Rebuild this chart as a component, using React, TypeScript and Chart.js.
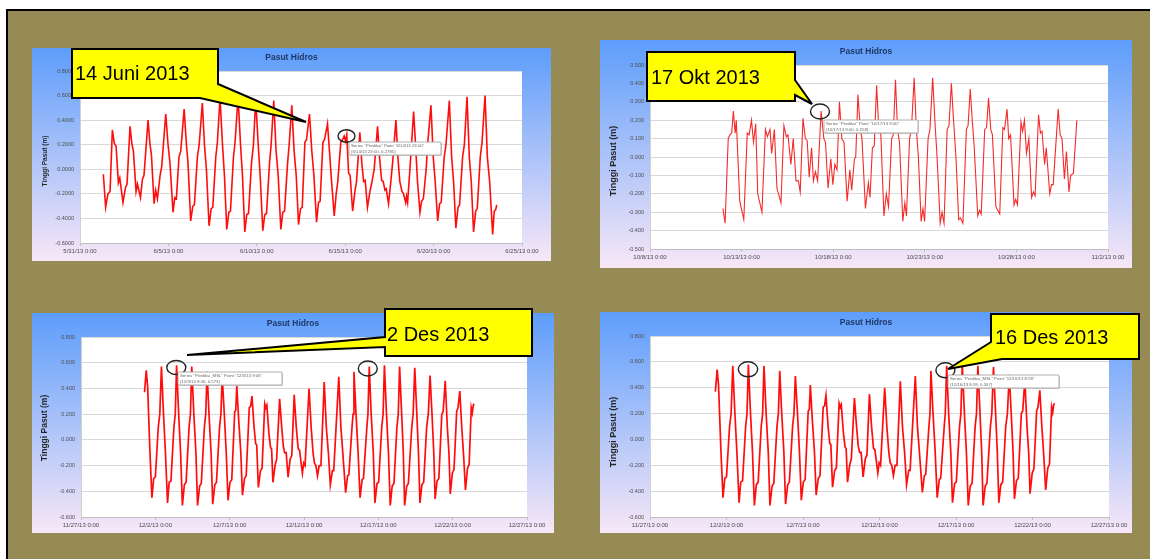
import React, { useEffect, useRef } from "react";
import { Chart, registerables } from "chart.js";

Chart.register(...registerables);

const FONT = "'Liberation Sans', Arial, sans-serif";
const CHART_TITLE = "Pasut Hidros";
const Y_TITLE = "Tinggi Pasut (m)";

const juneTickLabels = ["5/31/13 0:00", "6/5/13 0:00", "6/10/13 0:00", "6/15/13 0:00", "6/20/13 0:00", "6/25/13 0:00"];
const octTickLabels = ["10/8/13 0:00", "10/13/13 0:00", "10/18/13 0:00", "10/23/13 0:00", "10/28/13 0:00", "11/2/13 0:00"];
const decTickLabels = ["11/27/13 0:00", "12/2/13 0:00", "12/7/13 0:00", "12/12/13 0:00", "12/17/13 0:00", "12/22/13 0:00", "12/27/13 0:00"];

// days since 5/31/13 0:00
const juneDays = [
  1.32, 1.45, 1.58, 1.70, 1.83, 1.94, 2.04, 2.17, 2.25, 2.43, 2.57, 2.66,
  2.83, 2.94, 3.02, 3.17, 3.25, 3.42, 3.53, 3.62, 3.85, 3.96, 4.04, 4.19,
  4.28, 4.38, 4.53, 4.62, 4.85, 4.98, 5.09, 5.26, 5.36, 5.45, 5.60, 5.70,
  5.89, 6.02, 6.11, 6.26, 6.38, 6.47, 6.64, 6.74, 6.92, 7.04, 7.15, 7.30,
  7.42, 7.51, 7.68, 7.77, 7.92, 8.06, 8.17, 8.30, 8.42, 8.51, 8.68, 8.77,
  8.94, 9.08, 9.19, 9.32, 9.43, 9.53, 9.70, 9.81, 9.94, 10.08, 10.19, 10.34,
  10.45, 10.55, 10.72, 10.81, 10.96, 11.09, 11.21, 11.36, 11.47, 11.57, 11.74, 11.83,
  11.98, 12.11, 12.23, 12.36, 12.47, 12.57, 12.72, 12.81, 12.98, 13.11, 13.23, 13.38,
  13.49, 13.58, 13.74, 13.83, 14.00, 14.11, 14.23, 14.38, 14.49, 14.58, 14.75, 14.85,
  14.94, 15.02, 15.09, 15.19, 15.28, 15.42, 15.55, 15.64, 15.83, 15.94, 16.04, 16.13,
  16.26, 16.40, 16.49, 16.64, 16.83, 16.94, 17.06, 17.15, 17.25, 17.32, 17.45, 17.58,
  17.68, 17.87, 17.98, 18.09, 18.21, 18.30, 18.42, 18.47, 18.53, 18.66, 18.75, 18.87,
  18.98, 19.09, 19.23, 19.32, 19.42, 19.58, 19.66, 19.85, 19.98, 20.09, 20.23, 20.34,
  20.43, 20.60, 20.70, 20.89, 21.02, 21.13, 21.26, 21.38, 21.47, 21.64, 21.74, 21.89,
  22.02, 22.13, 22.26, 22.38, 22.47, 22.64, 22.74, 22.91, 23.04, 23.17, 23.34, 23.43,
  23.51, 23.57,
];
const juneLevels = [
  -0.04, -0.31, -0.2, -0.18, 0.32, 0.21, 0.19, -0.11, -0.07, -0.27, -0.15, -0.12,
  0.35, 0.2, 0.15, -0.18, -0.12, -0.23, -0.08, -0.05, 0.40, 0.2, 0.12, -0.28,
  -0.17, -0.24, -0.05, 0.02, 0.45, 0.2, 0.05, -0.35, -0.23, -0.24, 0.1, 0.15,
  0.49, 0.2, 0.05, -0.42, -0.3, -0.29, 0.1, 0.2, 0.54, 0.2, 0.0, -0.46,
  -0.32, -0.31, 0.1, 0.22, 0.58, 0.2, -0.05, -0.49, -0.35, -0.34, 0.1, 0.22,
  0.59, 0.2, -0.05, -0.51, -0.37, -0.36, 0.05, 0.2, 0.57, 0.2, -0.05, -0.5,
  -0.37, -0.36, 0.05, 0.2, 0.56, 0.15, -0.05, -0.49, -0.35, -0.34, 0.05, 0.2,
  0.52, 0.15, -0.05, -0.45, -0.32, -0.31, 0.22, 0.24, 0.45, 0.15, -0.05, -0.43,
  -0.27, -0.26, 0.22, 0.24, 0.37, 0.15, -0.1, -0.38, -0.2, -0.1, 0.22, 0.24,
  0.27, 0.23, 0.28, -0.03, -0.05, -0.34, -0.18, -0.1, 0.3, 0.05, -0.1, -0.09,
  -0.31, -0.18, -0.12, 0.0, 0.35, 0.1, -0.09, -0.1, -0.17, -0.16, -0.28, -0.1,
  0.05, 0.4, 0.1, -0.1, -0.18, -0.2, -0.27, -0.22, -0.27, 0.0, 0.2, 0.47,
  0.2, -0.1, -0.35, -0.26, -0.24, 0.0, 0.2, 0.52, 0.1, -0.1, -0.42, -0.28,
  -0.27, 0.1, 0.2, 0.56, 0.1, -0.1, -0.48, -0.31, -0.29, 0.1, 0.2, 0.59,
  0.1, -0.1, -0.51, -0.34, -0.32, 0.1, 0.22, 0.6, 0.1, -0.1, -0.53, -0.34,
  -0.33, -0.29,
];

// days since 10/8/13 0:00
const octDays = [
  3.98, 4.10, 4.27, 4.36, 4.46, 4.55, 4.65, 4.71, 4.90, 5.12, 5.31, 5.41,
  5.54, 5.65, 5.77, 5.88, 6.11, 6.30, 6.41, 6.55, 6.64, 6.79, 6.93, 7.15,
  7.31, 7.44, 7.53, 7.69, 7.82, 7.97, 8.10, 8.20, 8.35, 8.48, 8.58, 8.69,
  8.82, 8.92, 9.03, 9.15, 9.34, 9.49, 9.58, 9.72, 9.87, 9.98, 10.09, 10.21,
  10.34, 10.47, 10.59, 10.76, 10.91, 11.01, 11.16, 11.23, 11.35, 11.48, 11.57, 11.76,
  11.92, 12.01, 12.14, 12.24, 12.37, 12.49, 12.60, 12.77, 12.90, 13.02, 13.19, 13.28,
  13.40, 13.51, 13.62, 13.80, 13.91, 14.00, 14.17, 14.27, 14.42, 14.54, 14.65, 14.80,
  14.90, 14.99, 15.18, 15.28, 15.43, 15.56, 15.67, 15.84, 15.94, 16.05, 16.22, 16.32,
  16.45, 16.57, 16.70, 16.85, 16.94, 17.08, 17.27, 17.36, 17.48, 17.59, 17.70, 17.89,
  17.99, 18.08, 18.27, 18.37, 18.48, 18.60, 18.69, 18.88, 18.98, 19.09, 19.26, 19.35,
  19.49, 19.58, 19.68, 19.87, 19.96, 20.06, 20.25, 20.34, 20.44, 20.55, 20.68, 20.83,
  20.93, 21.02, 21.21, 21.31, 21.40, 21.54, 21.63, 21.82, 21.92, 22.01, 22.28, 22.39,
  22.49, 22.62, 22.73, 22.87, 22.96, 23.11, 23.30,
];
const octLevels = [
  -0.28, -0.36, 0.1, 0.12, 0.13, 0.25, 0.13, 0.2, -0.24, -0.34, 0.13, 0.12,
  0.2, 0.08, 0.18, -0.2, -0.3, 0.15, 0.11, 0.15, 0.02, 0.15, -0.17, -0.25,
  0.17, 0.11, 0.12, -0.04, 0.1, -0.13, -0.13, -0.19, 0.21, 0.1, 0.09, -0.11,
  0.05, -0.13, -0.08, -0.13, 0.25, 0.1, 0.08, -0.17, -0.01, -0.15, -0.04, -0.07,
  0.3, 0.1, 0.08, -0.24, -0.07, -0.18, -0.01, 0.0, 0.34, 0.15, 0.1, -0.28,
  -0.14, -0.22, 0.05, 0.06, 0.39, 0.15, 0.12, -0.32, -0.2, -0.27, 0.1, 0.12,
  0.42, 0.15, 0.08, -0.35, -0.25, -0.32, 0.1, 0.15, 0.43, 0.15, 0.0, -0.35,
  -0.28, -0.35, 0.1, 0.15, 0.43, 0.18, 0.0, -0.36, -0.3, -0.36, 0.15, 0.17,
  0.4, 0.2, 0.0, -0.34, -0.33, -0.36, 0.15, 0.17, 0.37, 0.2, 0.05, -0.32,
  -0.29, -0.31, 0.15, 0.16, 0.32, 0.15, 0.12, -0.27, -0.29, -0.31, 0.16, 0.15,
  0.26, 0.1, 0.12, -0.26, -0.23, -0.26, 0.19, 0.14, 0.2, 0.02, 0.1, -0.22,
  -0.19, -0.21, 0.23, 0.13, 0.14, -0.04, 0.05, -0.2, -0.15, -0.15, 0.26, 0.12,
  0.1, -0.12, 0.03, -0.19, -0.1, -0.09, 0.2,
];

// days since 11/27/13 0:00
const decDays = [
  4.27, 4.39, 4.48, 4.64, 4.77, 4.89, 5.00, 5.20, 5.30, 5.41, 5.55, 5.68,
  5.82, 5.93, 6.05, 6.25, 6.34, 6.43, 6.57, 6.70, 6.82, 6.95, 7.07, 7.27,
  7.36, 7.45, 7.59, 7.73, 7.84, 7.98, 8.09, 8.30, 8.39, 8.48, 8.61, 8.75,
  8.86, 9.00, 9.11, 9.32, 9.41, 9.50, 9.64, 9.77, 9.89, 10.02, 10.14, 10.34,
  10.41, 10.48, 10.61, 10.75, 10.86, 11.00, 11.11, 11.32, 11.41, 11.50, 11.64, 11.75,
  11.82, 11.93, 12.07, 12.18, 12.36, 12.43, 12.50, 12.64, 12.75, 12.82, 12.91, 13.05,
  13.16, 13.36, 13.50, 13.61, 13.70, 13.80, 13.93, 14.07, 14.18, 14.34, 14.48, 14.61,
  14.70, 14.89, 14.98, 15.07, 15.34, 15.48, 15.61, 15.70, 15.80, 15.91, 16.02, 16.14,
  16.36, 16.50, 16.64, 16.77, 16.91, 17.00, 17.34, 17.48, 17.61, 17.80, 17.93, 18.02,
  18.23, 18.30, 18.36, 18.50, 18.64, 18.77, 18.91, 19.00, 19.23, 19.30, 19.39, 19.52,
  19.66, 19.77, 19.91, 20.02, 20.23, 20.32, 20.41, 20.55, 20.68, 20.80, 20.93, 21.05,
  21.25, 21.34, 21.43, 21.57, 21.68, 21.77, 21.91, 22.02, 22.25, 22.34, 22.45, 22.59,
  22.70, 22.80, 22.93, 23.05, 23.25, 23.36, 23.48, 23.61, 23.73, 23.82, 23.95, 24.07,
  24.27, 24.36, 24.50, 24.64, 24.75, 24.84, 24.98, 25.09, 25.27, 25.36, 25.48, 25.61,
  25.75, 25.86, 26.00, 26.11, 26.25, 26.32, 26.39, 26.45,
];
const decLevels = [
  0.37, 0.54, 0.42, -0.1, -0.45, -0.3, -0.29, 0.1, 0.2, 0.57, 0.2, -0.1,
  -0.49, -0.33, -0.32, 0.1, 0.2, 0.58, 0.2, -0.1, -0.51, -0.35, -0.33, 0.1,
  0.2, 0.57, 0.2, -0.1, -0.51, -0.36, -0.34, 0.1, 0.2, 0.53, 0.2, -0.1,
  -0.5, -0.35, -0.33, 0.1, 0.2, 0.49, 0.2, -0.1, -0.47, -0.33, -0.31, 0.22,
  0.23, 0.42, 0.15, -0.1, -0.43, -0.3, -0.28, 0.25, 0.26, 0.34, 0.1, -0.03,
  -0.04, -0.37, -0.24, -0.22, 0.28, 0.25, 0.27, 0.05, -0.06, -0.07, -0.33, -0.2,
  -0.15, 0.32, 0.1, -0.05, -0.1, -0.1, -0.29, -0.15, -0.12, 0.35, 0.1, -0.07,
  -0.08, -0.26, -0.18, -0.2, 0.4, 0.1, -0.1, -0.18, -0.2, -0.28, -0.2, -0.2,
  0.45, 0.1, -0.1, -0.35, -0.24, -0.24, 0.49, 0.1, -0.1, -0.41, -0.28, -0.27,
  0.1, 0.2, 0.53, 0.2, -0.1, -0.45, -0.31, -0.3, 0.1, 0.2, 0.57, 0.2,
  -0.1, -0.49, -0.34, -0.33, 0.1, 0.2, 0.58, 0.2, -0.1, -0.51, -0.36, -0.34,
  0.1, 0.2, 0.57, 0.2, -0.1, -0.51, -0.36, -0.34, 0.1, 0.2, 0.56, 0.2,
  -0.1, -0.49, -0.35, -0.33, 0.1, 0.2, 0.5, 0.2, -0.1, -0.46, -0.32, -0.3,
  0.2, 0.22, 0.46, 0.1, -0.1, -0.42, -0.26, -0.23, 0.22, 0.25, 0.38, 0.1,
  -0.15, -0.39, -0.22, -0.19, 0.25, 0.21, 0.27, 0.28,
];

type PanelProps = {
  left: number; top: number; width: number; height: number;
  plotLeft: number; plotTop: number; plotRight: number; plotBottom: number;
  days: number[]; levels: number[]; tickLabels: string[];
  yMin: number; yMax: number; yStep: number; decimals: number;
  lineWidth: number; lineColor: string;
  titleY: number; titleSize: number;
  yTitleX: number; yTitleY: number; yTitleSize: number;
};

function TidePanel(p: PanelProps) {
  const ref = useRef<HTMLCanvasElement>(null);
  useEffect(() => {
    const canvas = ref.current;
    if (!canvas) return;
    const decor = {
      id: "decor",
      beforeDraw(chart: any) {
        const { ctx, width, height, chartArea } = chart;
        ctx.save();
        const g = ctx.createLinearGradient(0, 0, 0, height);
        g.addColorStop(0, "#5d9dfb");
        g.addColorStop(1, "#f7e7f7");
        ctx.fillStyle = g;
        ctx.fillRect(0, 0, width, height);
        ctx.fillStyle = "#ffffff";
        ctx.fillRect(chartArea.left, chartArea.top, chartArea.right - chartArea.left, chartArea.bottom - chartArea.top);
        ctx.restore();
      },
      afterDraw(chart: any) {
        const { ctx, width } = chart;
        ctx.save();
        ctx.textAlign = "center";
        ctx.textBaseline = "middle";
        ctx.fillStyle = "#1f3864";
        ctx.font = `bold ${p.titleSize}px ${FONT}`;
        ctx.fillText(CHART_TITLE, width / 2, p.titleY);
        ctx.translate(p.yTitleX, p.yTitleY);
        ctx.rotate(-Math.PI / 2);
        ctx.fillStyle = "#262626";
        ctx.font = `bold ${p.yTitleSize}px ${FONT}`;
        ctx.fillText(Y_TITLE, 0, 0);
        ctx.restore();
      },
    };
    const chart = new Chart(canvas, {
      type: "line",
      data: {
        datasets: [
          {
            data: p.days.map((d, i) => ({ x: d, y: p.levels[i] })),
            borderColor: p.lineColor,
            borderWidth: p.lineWidth,
            pointRadius: 0,
            tension: 0,
            fill: false,
          },
        ],
      },
      options: {
        animation: false,
        responsive: false,
        maintainAspectRatio: false,
        events: [],
        layout: { padding: { left: 0, top: p.plotTop, right: p.width - p.plotRight, bottom: 0 } },
        plugins: { legend: { display: false }, tooltip: { enabled: false }, title: { display: false } },
        scales: {
          x: {
            type: "linear",
            min: 0,
            max: (p.tickLabels.length - 1) * 5,
            ticks: {
              stepSize: 5,
              autoSkip: false,
              maxRotation: 0,
              minRotation: 0,
              padding: 2,
              color: "#4d4d4d",
              font: { size: 6, family: FONT },
              callback: (v: any) => p.tickLabels[Math.round(Number(v) / 5)] ?? "",
            },
            grid: { display: true, drawOnChartArea: false, drawTicks: true, tickLength: 3, color: "#bfbfbf" },
            border: { display: true, color: "#bfbfbf" },
            afterFit: (s: any) => { s.height = p.height - p.plotBottom; },
          },
          y: {
            min: p.yMin,
            max: p.yMax,
            ticks: {
              stepSize: p.yStep,
              padding: 6,
              color: "#4d4d4d",
              font: { size: 5.5, family: FONT },
              callback: (v: any) => {
                const n = Math.abs(Number(v)) < 1e-9 ? 0 : Number(v);
                return n.toFixed(p.decimals);
              },
            },
            grid: { color: "#d9d9d9", drawTicks: false },
            border: { display: true, color: "#d0d0d0" },
            afterFit: (s: any) => { s.width = p.plotLeft; },
          },
        },
      },
      plugins: [decor],
    } as any);
    return () => chart.destroy();
  }, []);
  return (
    <div style={{ position: "absolute", left: p.left, top: p.top, width: p.width, height: p.height }}>
      <canvas ref={ref} width={p.width} height={p.height} style={{ display: "block", width: p.width, height: p.height }} />
    </div>
  );
}

function Tip({ x, y, w, line1, line2 }: { x: number; y: number; w: number; line1: string; line2: string }) {
  return (
    <g>
      <rect x={x + 1} y={y + 1} width={w} height={13} fill="#bdbdbd" opacity={0.6} />
      <rect x={x} y={y} width={w} height={13} fill="#ffffff" stroke="#9a9a9a" strokeWidth={0.8} rx={1} />
      <text x={x + 2} y={y + 5.2} fontSize={4.3} fill="#666" fontFamily={FONT}>{line1}</text>
      <text x={x + 2} y={y + 10.5} fontSize={4.3} fill="#666" fontFamily={FONT}>{line2}</text>
    </g>
  );
}

export default function App() {
  return (
    <div style={{ position: "absolute", left: 0, top: 0, width: 1150, height: 559, background: "#ffffff", overflow: "hidden" }}>
      <div style={{ position: "absolute", left: 6, top: 9, right: 0, bottom: 0, background: "#968b55", borderTop: "2px solid #000", borderLeft: "2px solid #000" }} />
      <TidePanel left={32} top={48} width={519} height={213} plotLeft={48} plotTop={23} plotRight={490} plotBottom={195}
        days={juneDays} levels={juneLevels} tickLabels={juneTickLabels} yMin={-0.6} yMax={0.8} yStep={0.2} decimals={4}
        lineWidth={1.6} lineColor="#ff0d0d" titleY={10} titleSize={8.5} yTitleX={13} yTitleY={113} yTitleSize={6.5} />
      <TidePanel left={600} top={40} width={532} height={228} plotLeft={50} plotTop={25} plotRight={508} plotBottom={209}
        days={octDays} levels={octLevels} tickLabels={octTickLabels} yMin={-0.5} yMax={0.5} yStep={0.1} decimals={3}
        lineWidth={1.1} lineColor="#f52a2a" titleY={12} titleSize={8.5} yTitleX={14} yTitleY={121} yTitleSize={9} />
      <TidePanel left={32} top={313} width={522} height={220} plotLeft={49} plotTop={24} plotRight={495} plotBottom={204}
        days={decDays} levels={decLevels} tickLabels={decTickLabels} yMin={-0.6} yMax={0.8} yStep={0.2} decimals={3}
        lineWidth={1.7} lineColor="#ff0d0d" titleY={10.5} titleSize={8.5} yTitleX={13} yTitleY={115} yTitleSize={8.5} />
      <TidePanel left={600} top={312} width={532} height={221} plotLeft={50} plotTop={24} plotRight={509} plotBottom={205}
        days={decDays} levels={decLevels} tickLabels={decTickLabels} yMin={-0.6} yMax={0.8} yStep={0.2} decimals={3}
        lineWidth={1.7} lineColor="#ff0d0d" titleY={11} titleSize={8.5} yTitleX={14} yTitleY={120} yTitleSize={9} />
      <svg width={1150} height={559} style={{ position: "absolute", left: 0, top: 0, pointerEvents: "none" }}>
        <g fill="none" stroke="#222" strokeWidth={1.4}>
          <ellipse cx={346.5} cy={136} rx={8.5} ry={6.2} />
          <ellipse cx={820} cy={111.5} rx={9.5} ry={7.5} />
          <ellipse cx={176.3} cy={367.5} rx={9.5} ry={7} />
          <ellipse cx={367.8} cy={368.5} rx={9.5} ry={7.5} />
          <ellipse cx={748} cy={369.3} rx={9.7} ry={7.5} />
          <ellipse cx={945.4} cy={370.3} rx={9.5} ry={7.5} />
        </g>
        <Tip x={349} y={142} w={92} line1={'Series "Prediksi" Point "6/14/13 23:00"'} line2={"(6/14/13 23:00, 0.2785)"} />
        <Tip x={824} y={120} w={94} line1={'Series "Prediksi" Point "10/17/13 9:00"'} line2={"(10/17/13 9:00, 0.258)"} />
        <Tip x={178} y={372} w={104} line1={'Series "Prediksi_MSL" Point "12/3/13 9:46"'} line2={"(12/3/13 9:46, 0.573)"} />
        <Tip x={948} y={375} w={111} line1={'Series "Prediksi_MSL" Point "12/16/13 8:59"'} line2={"(12/16/13 8:59, 0.567)"} />
        <g fill="#ffff00" stroke="#000" strokeWidth={2} strokeLinejoin="miter">
          <path d="M72,49 L218,49 L218,84 L306,122 L200,98 L72,98 Z" />
          <path d="M647,52 L795,52 L795,80 L812,104 L795,95 L795,101 L647,101 Z" />
          <path d="M385,309 L532,309 L532,356 L385,356 L385,347 L187,355 L385,337 Z" />
          <path d="M991,314 L1139,314 L1139,359 L1002,359 L948,369 L991,342 Z" />
        </g>
        <g fontFamily={FONT} fontSize={20} fill="#000">
          <text x={75} y={80}>14 Juni 2013</text>
          <text x={651} y={84}>17 Okt 2013</text>
          <text x={387} y={341}>2 Des 2013</text>
          <text x={995} y={344}>16 Des 2013</text>
        </g>
      </svg>
    </div>
  );
}
